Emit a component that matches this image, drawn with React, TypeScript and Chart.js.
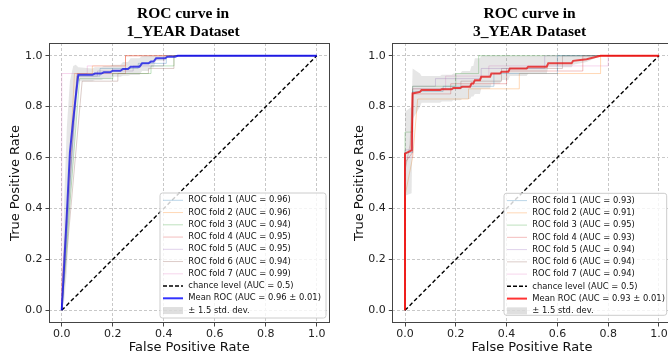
import React, { useEffect, useRef } from "react";
import Chart from "chart.js/auto";

// ---------- text ----------
const TITLE_1 = ["ROC curve in", "1_YEAR Dataset"];
const TITLE_2 = ["ROC curve in", "3_YEAR Dataset"];
const X_LABEL = "False Positive Rate";
const Y_LABEL = "True Positive Rate";
const AXIS_TICKS = [0, 0.2, 0.4, 0.6, 0.8, 1.0];
const CHANCE_FPR = [0, 1];
const CHANCE_TPR = [0, 1];
const CHANCE_LABEL = "chance level (AUC = 0.5)";
const STD_LABEL = "\u00b1 1.5 std. dev.";
const FOLD_COLORS = [
  "rgba(31,119,180,0.3)",
  "rgba(255,127,14,0.3)",
  "rgba(44,160,44,0.3)",
  "rgba(214,39,40,0.3)",
  "rgba(148,103,189,0.3)",
  "rgba(140,86,75,0.3)",
  "rgba(227,119,194,0.3)",
];

// ---------- 1_YEAR ----------
const AUC_1 = [0.96, 0.96, 0.94, 0.95, 0.95, 0.94, 0.99];
const MEAN_LABEL_1 = "Mean ROC (AUC = 0.96 \u00b1 0.01)";
const F1_FPR_1 = [0, 0.06, 0.15, 0.15, 0.3, 0.3, 0.41, 0.41, 1];
const F1_TPR_1 = [0, 0.92, 0.92, 0.95, 0.95, 0.97, 0.97, 1, 1];
const F2_FPR_1 = [0, 0.05, 0.12, 0.12, 0.25, 0.25, 1];
const F2_TPR_1 = [0, 0.93, 0.93, 0.96, 0.96, 1, 1];
const F3_FPR_1 = [0, 0.07, 0.2, 0.2, 0.35, 0.35, 0.44, 0.44, 1];
const F3_TPR_1 = [0, 0.91, 0.91, 0.93, 0.93, 0.96, 0.96, 1, 1];
const F4_FPR_1 = [0, 0, 0.06, 0.25, 0.25, 1];
const F4_TPR_1 = [0, 0.1, 0.93, 0.93, 1, 1];
const F5_FPR_1 = [0, 0.06, 0.14, 0.14, 0.28, 0.28, 0.4, 0.4, 1];
const F5_TPR_1 = [0, 0.92, 0.92, 0.94, 0.94, 0.96, 0.96, 1, 1];
const F6_FPR_1 = [0, 0.08, 0.22, 0.22, 0.34, 0.34, 0.44, 0.44, 1];
const F6_TPR_1 = [0, 0.9, 0.9, 0.93, 0.93, 0.95, 0.95, 1, 1];
const F7_FPR_1 = [0, 0, 0.1, 0.1, 0.25, 0.25, 1];
const F7_TPR_1 = [0, 0.93, 0.93, 0.96, 0.96, 1, 1];
const MEAN_FPR_1 = [0, 0.01, 0.02, 0.032, 0.045, 0.055, 0.065, 0.12, 0.13, 0.155, 0.165, 0.19, 0.2, 0.23, 0.24, 0.26, 0.27, 0.305, 0.315, 0.34, 0.35, 0.36, 0.37, 0.405, 0.415, 0.444, 0.455, 1];
const MEAN_TPR_1 = [0, 0.19, 0.38, 0.62, 0.75, 0.84, 0.925, 0.925, 0.93, 0.93, 0.935, 0.935, 0.941, 0.941, 0.948, 0.948, 0.957, 0.957, 0.97, 0.97, 0.977, 0.977, 0.99, 0.99, 0.996, 0.996, 1, 1];
const STD_UP_1 = [0, 0.45, 0.72, 0.9, 0.96, 0.965, 0.955, 0.95, 0.955, 0.955, 0.96, 0.96, 0.965, 0.965, 0.975, 0.975, 0.99, 0.99, 1, 1, 1, 1, 1, 1, 1, 1, 1, 1];
const STD_LO_1 = [0, 0.04, 0.15, 0.4, 0.58, 0.74, 0.9, 0.9, 0.905, 0.905, 0.91, 0.91, 0.917, 0.917, 0.921, 0.921, 0.924, 0.924, 0.94, 0.94, 0.954, 0.954, 0.98, 0.98, 0.992, 0.992, 1, 1];

// ---------- 3_YEAR ----------
const AUC_2 = [0.93, 0.91, 0.95, 0.93, 0.94, 0.94, 0.94];
const MEAN_LABEL_2 = "Mean ROC (AUC = 0.93 \u00b1 0.01)";
const F1_FPR_2 = [0, 0, 0.03, 0.03, 0.15, 0.15, 0.35, 0.35, 0.6, 0.6, 1];
const F1_TPR_2 = [0, 0.62, 0.62, 0.86, 0.86, 0.88, 0.88, 0.93, 0.93, 1, 1];
const F2_FPR_2 = [0, 0, 0.03, 0.05, 0.25, 0.25, 0.45, 0.45, 0.77, 0.77, 1];
const F2_TPR_2 = [0, 0.45, 0.6, 0.83, 0.83, 0.87, 0.87, 0.93, 0.93, 1, 1];
const F3_FPR_2 = [0, 0, 0.03, 0.03, 0.2, 0.2, 0.29, 0.29, 1];
const F3_TPR_2 = [0, 0.7, 0.7, 0.88, 0.88, 0.93, 0.93, 1, 1];
const F4_FPR_2 = [0, 0, 0.03, 0.03, 0.18, 0.18, 0.4, 0.4, 0.7, 0.7, 1];
const F4_TPR_2 = [0, 0.58, 0.62, 0.85, 0.85, 0.89, 0.89, 0.94, 0.94, 1, 1];
const F5_FPR_2 = [0, 0, 0.03, 0.03, 0.12, 0.12, 0.3, 0.3, 0.55, 0.55, 1];
const F5_TPR_2 = [0, 0.63, 0.63, 0.88, 0.88, 0.91, 0.91, 0.95, 0.95, 1, 1];
const F6_FPR_2 = [0, 0, 0.02, 0.03, 0.22, 0.22, 0.38, 0.38, 0.62, 0.62, 1];
const F6_TPR_2 = [0, 0.55, 0.65, 0.87, 0.87, 0.9, 0.9, 0.95, 0.95, 1, 1];
const F7_FPR_2 = [0, 0, 0.03, 0.03, 0.16, 0.16, 0.33, 0.33, 0.8, 0.8, 1];
const F7_TPR_2 = [0, 0.6, 0.6, 0.87, 0.87, 0.92, 0.92, 0.96, 0.96, 1, 1];
const MEAN_FPR_2 = [0, 0, 0.026, 0.03, 0.059, 0.065, 0.138, 0.145, 0.184, 0.19, 0.217, 0.225, 0.256, 0.262, 0.269, 0.275, 0.295, 0.3, 0.335, 0.34, 0.374, 0.38, 0.407, 0.413, 0.479, 0.485, 0.558, 0.564, 0.656, 0.662, 0.715, 0.77, 1];
const MEAN_TPR_2 = [0, 0.615, 0.628, 0.852, 0.858, 0.865, 0.865, 0.868, 0.868, 0.873, 0.873, 0.878, 0.878, 0.891, 0.891, 0.904, 0.904, 0.917, 0.917, 0.93, 0.93, 0.937, 0.937, 0.95, 0.95, 0.957, 0.957, 0.97, 0.97, 0.98, 0.986, 1, 1];
const STD_UP_2 = [0, 0.78, 0.8, 0.95, 0.93, 0.92, 0.92, 0.925, 0.925, 0.93, 0.93, 0.94, 0.94, 0.96, 0.96, 0.99, 0.99, 1, 1, 1, 1, 1, 1, 1, 1, 1, 1, 1, 1, 1, 1, 1, 1];
const STD_LO_2 = [0, 0.45, 0.46, 0.75, 0.8, 0.815, 0.815, 0.82, 0.82, 0.825, 0.825, 0.83, 0.83, 0.84, 0.84, 0.85, 0.85, 0.87, 0.87, 0.89, 0.89, 0.905, 0.905, 0.92, 0.92, 0.93, 0.93, 0.955, 0.955, 0.965, 0.975, 1, 1];

const FONT = "'DejaVu Sans', sans-serif";

type Panel = {
  id: string;
  title: string[];
  foldFpr: number[][];
  foldTpr: number[][];
  auc: number[];
  meanFpr: number[];
  meanTpr: number[];
  up: number[];
  lo: number[];
  meanColor: string;
  meanLabel: string;
  yW: number;
  padRight: number;
  yTitlePad: number;
  titleCx: number;
  legend: { x: number; y: number; w: number; h: number };
};

const P1: Panel = {
  id: "a",
  title: TITLE_1,
  foldFpr: [F1_FPR_1, F2_FPR_1, F3_FPR_1, F4_FPR_1, F5_FPR_1, F6_FPR_1, F7_FPR_1],
  foldTpr: [F1_TPR_1, F2_TPR_1, F3_TPR_1, F4_TPR_1, F5_TPR_1, F6_TPR_1, F7_TPR_1],
  auc: AUC_1,
  meanFpr: MEAN_FPR_1,
  meanTpr: MEAN_TPR_1,
  up: STD_UP_1,
  lo: STD_LO_1,
  meanColor: "rgba(0,0,255,0.8)",
  meanLabel: MEAN_LABEL_1,
  yW: 49,
  padRight: 4.5,
  yTitlePad: 8.2,
  titleCx: 183,
  legend: { x: 160, y: 193, w: 166, h: 125 },
};

const P2: Panel = {
  id: "b",
  title: TITLE_2,
  foldFpr: [F1_FPR_2, F2_FPR_2, F3_FPR_2, F4_FPR_2, F5_FPR_2, F6_FPR_2, F7_FPR_2],
  foldTpr: [F1_TPR_2, F2_TPR_2, F3_TPR_2, F4_TPR_2, F5_TPR_2, F6_TPR_2, F7_TPR_2],
  auc: AUC_2,
  meanFpr: MEAN_FPR_2,
  meanTpr: MEAN_TPR_2,
  up: STD_UP_2,
  lo: STD_LO_2,
  meanColor: "rgba(255,0,0,0.8)",
  meanLabel: MEAN_LABEL_2,
  yW: 58.3,
  padRight: 7.3,
  yTitlePad: 18,
  titleCx: 195.5,
  legend: { x: 170, y: 193.3, w: 162.7, h: 122 },
};

const pts = (xs: number[], ys: number[]) => xs.map((x, i) => ({ x, y: ys[i] }));

function makeConfig(p: Panel): any {
  const datasets: any[] = [];
  const base = { pointRadius: 0, pointHoverRadius: 0, tension: 0, fill: false };
  p.foldFpr.forEach((fx, i) => {
    datasets.push({ ...base, data: pts(fx, p.foldTpr[i]), borderColor: FOLD_COLORS[i], borderWidth: 1, order: 4 });
  });
  datasets.push({ ...base, data: pts(CHANCE_FPR, CHANCE_TPR), borderColor: "#000", borderWidth: 1.4, borderDash: [4, 2.5], order: 3 });
  datasets.push({ ...base, data: pts(p.meanFpr, p.meanTpr), borderColor: p.meanColor, borderWidth: 2, order: 2 });
  const loIdx = datasets.length;
  datasets.push({ ...base, data: pts(p.meanFpr, p.lo), borderColor: "rgba(0,0,0,0)", borderWidth: 0, order: 1 });
  datasets.push({ ...base, data: pts(p.meanFpr, p.up), borderColor: "rgba(0,0,0,0)", borderWidth: 0, fill: loIdx, backgroundColor: "rgba(128,128,128,0.2)", order: 0 });

  const legendItems: any[] = p.auc.map((a, i) => ({
    kind: "line", color: FOLD_COLORS[i], width: 1, label: `ROC fold ${i + 1} (AUC = ${a.toFixed(2)})`,
  }));
  legendItems.push({ kind: "line", color: "#000", width: 1.5, dash: [4, 2], label: CHANCE_LABEL });
  legendItems.push({ kind: "line", color: p.meanColor, width: 2, label: p.meanLabel });
  legendItems.push({ kind: "patch", color: "rgba(128,128,128,0.25)", label: STD_LABEL });

  const axis = (isX: boolean) => ({
    type: "linear",
    min: -0.05,
    max: 1.05,
    afterBuildTicks: (s: any) => {
      s.ticks = AXIS_TICKS.map((v) => ({ value: v }));
    },
    afterFit: (s: any) => {
      if (isX) s.height = 35;
      else s.width = p.yW;
    },
    ticks: {
      callback: (v: any) => Number(v).toFixed(1),
      font: { family: FONT, size: 11 },
      color: "#222",
      padding: isX ? 1 : 3,
      maxRotation: 0,
      autoSkip: false,
    },
    grid: {
      color: "#c8c8c8",
      lineWidth: 1,
      drawTicks: true,
      tickLength: 3.5,
      tickColor: "#444",
      tickWidth: 1,
      tickBorderDash: [],
    },
    border: { display: false, dash: [3, 2] },
    title: {
      display: true,
      text: isX ? X_LABEL : Y_LABEL,
      font: { family: FONT, size: 13, lineHeight: 1.2 },
      color: "#111",
      padding: isX ? { top: 0, bottom: 2.2 } : { top: p.yTitlePad, bottom: 0 },
    },
  });

  const decor = {
    id: "decor_" + p.id,
    afterDatasetsDraw(chart: any) {
      const { ctx, chartArea: a } = chart;
      ctx.save();
      ctx.strokeStyle = "#444";
      ctx.lineWidth = 1;
      ctx.setLineDash([]);
      const l = Math.round(a.left) + 0.5;
      const t = Math.round(a.top) + 0.5;
      const r = Math.round(a.right) - 0.5;
      const b = Math.round(a.bottom) - 0.5;
      ctx.strokeRect(l, t, r - l, b - t);
      ctx.restore();
    },
    afterDraw(chart: any) {
      const ctx = chart.ctx as CanvasRenderingContext2D;
      ctx.save();
      // titles
      ctx.fillStyle = "#000";
      ctx.font = "bold 15.5px 'Liberation Serif', 'Times New Roman', serif";
      ctx.textAlign = "center";
      ctx.textBaseline = "alphabetic";
      ctx.fillText(p.title[0], p.titleCx, 17.5);
      ctx.fillText(p.title[1], p.titleCx, 36);
      // legend
      const L = p.legend;
      ctx.beginPath();
      const rr = 2.5;
      ctx.moveTo(L.x + rr, L.y);
      ctx.lineTo(L.x + L.w - rr, L.y);
      ctx.quadraticCurveTo(L.x + L.w, L.y, L.x + L.w, L.y + rr);
      ctx.lineTo(L.x + L.w, L.y + L.h - rr);
      ctx.quadraticCurveTo(L.x + L.w, L.y + L.h, L.x + L.w - rr, L.y + L.h);
      ctx.lineTo(L.x + rr, L.y + L.h);
      ctx.quadraticCurveTo(L.x, L.y + L.h, L.x, L.y + L.h - rr);
      ctx.lineTo(L.x, L.y + rr);
      ctx.quadraticCurveTo(L.x, L.y, L.x + rr, L.y);
      ctx.closePath();
      ctx.fillStyle = "rgba(255,255,255,0.8)";
      ctx.fill();
      ctx.strokeStyle = "#cccccc";
      ctx.lineWidth = 1;
      ctx.stroke();
      ctx.font = `8.4px ${FONT}`;
      ctx.textAlign = "left";
      ctx.textBaseline = "middle";
      legendItems.forEach((it, i) => {
        const cy = L.y + 7.3 + i * 12.25;
        const hx0 = L.x + 3;
        const hx1 = L.x + 23;
        if (it.kind === "line") {
          ctx.strokeStyle = it.color;
          ctx.lineWidth = it.width;
          ctx.setLineDash(it.dash || []);
          ctx.beginPath();
          ctx.moveTo(hx0, cy);
          ctx.lineTo(hx1, cy);
          ctx.stroke();
          ctx.setLineDash([]);
        } else {
          ctx.fillStyle = it.color;
          ctx.fillRect(hx0, cy - 3.5, 20, 7);
        }
        ctx.fillStyle = "#111";
        ctx.fillText(it.label, L.x + 28.3, cy);
      });
      ctx.restore();
    },
  };

  return {
    type: "line",
    data: { datasets },
    options: {
      responsive: false,
      maintainAspectRatio: false,
      animation: false,
      events: [],
      devicePixelRatio: 1,
      layout: { padding: { left: 0, right: p.padRight, top: 43, bottom: 0 } },
      plugins: {
        legend: { display: false },
        title: { display: false },
        tooltip: { enabled: false },
      },
      scales: { x: axis(true), y: axis(false) },
    },
    plugins: [decor],
  };
}

export default function App() {
  const c1 = useRef<HTMLCanvasElement>(null);
  const c2 = useRef<HTMLCanvasElement>(null);
  useEffect(() => {
    const a = new Chart(c1.current!, makeConfig(P1));
    const b = new Chart(c2.current!, makeConfig(P2));
    return () => {
      a.destroy();
      b.destroy();
    };
  }, []);
  return (
    <div style={{ position: "fixed", left: 0, top: 0, width: 668, height: 358, overflow: "hidden", background: "#fff" }}>
      <canvas ref={c1} width={334} height={358} style={{ position: "absolute", left: 0, top: 0, width: 334, height: 358 }} />
      <canvas ref={c2} width={345} height={358} style={{ position: "absolute", left: 334, top: 0, width: 345, height: 358 }} />
    </div>
  );
}
